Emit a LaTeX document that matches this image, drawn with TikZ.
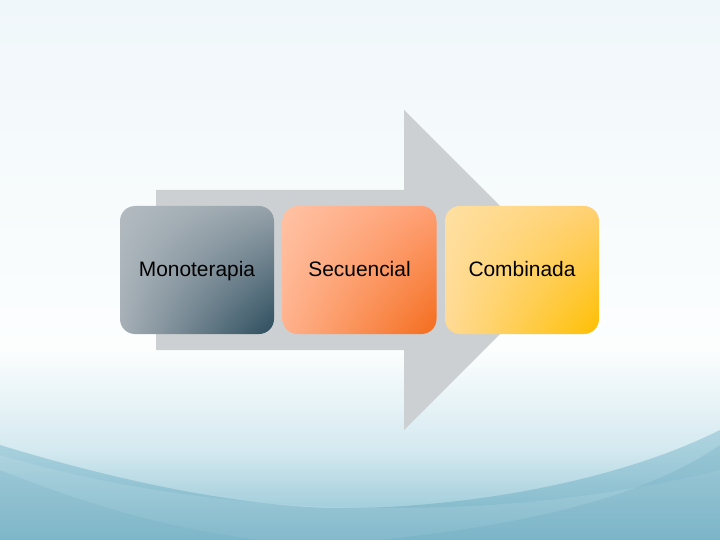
\documentclass[tikz,border=0pt]{standalone}
\usepackage{fontspec}
\setmainfont{Liberation Sans}
\usetikzlibrary{shadings}
\begin{document}
\begin{tikzpicture}[x=1bp,y=-1bp,
  stagebox/.style={rounded corners=15bp, minimum width=154bp, minimum height=128bp,
    inner sep=0pt, text height=18bp, text depth=4bp,
    font=\fontsize{21}{25}\selectfont, text=black},
  arrowshape/.style={draw=none, fill=arrowgray}]
\definecolor{arrowgray}{HTML}{CDD0D2}
\definecolor{bgtop}{HTML}{F0F7FA}
\definecolor{bgmid}{HTML}{FCFEFE}
\definecolor{teal1}{HTML}{68A9BF}
\definecolor{teal2}{HTML}{88BFD0}
\definecolor{teal3}{HTML}{D4E9F0}
\definecolor{mUL}{HTML}{B3BBC1}\definecolor{mUR}{HTML}{96A2AA}
\definecolor{mLL}{HTML}{A6AFB6}\definecolor{mLR}{HTML}{2B4C5D}
\definecolor{sUL}{HTML}{FFC2A4}\definecolor{sUR}{HTML}{FF9E72}
\definecolor{sLL}{HTML}{FFB18C}\definecolor{sLR}{HTML}{F46C1C}
\definecolor{cUL}{HTML}{FFE0A2}\definecolor{cUR}{HTML}{FFD072}
\definecolor{cLL}{HTML}{FFDA96}\definecolor{cLR}{HTML}{FFBF00}
\useasboundingbox (0,0) rectangle (720,540);
% background
\shade[top color=bgtop, bottom color=bgmid] (0,0) rectangle (720,350);
\shade[top color=bgmid, bottom color=teal3] (0,350) rectangle (720,450);
\shade[top color=teal3, bottom color=teal2] (0,450) rectangle (720,540);
% darker wave bands at the sides
\shade[top color=teal2, bottom color=teal1, fill opacity=0.55]
  (0,445) .. controls (180,500) and (300,510) .. (360,508)
  .. controls (480,505) and (620,480) .. (720,430) -- (720,540) -- (0,540) -- cycle;
\fill[white, opacity=0.1]
  (0,455) .. controls (200,515) and (480,530) .. (720,470) -- (720,540) -- (0,540) -- cycle;
\fill[teal1, opacity=0.25]
  (720,445) .. controls (640,500) and (520,525) .. (380,540) -- (720,540) -- cycle;
\fill[teal1, opacity=0.2]
  (0,470) .. controls (100,510) and (180,530) .. (260,540) -- (0,540) -- cycle;
% big arrow
\path[arrowshape] (156,190) -- (404,190) -- (404,110) -- (564,270) -- (404,430) -- (404,350) -- (156,350) -- cycle;
% boxes
\node[stagebox, upper left=mUL, upper right=mUR, lower left=mLL, lower right=mLR]
  (mono) at (197,270) {Monoterapia};
\node[stagebox, upper left=sUL, upper right=sUR, lower left=sLL, lower right=sLR]
  (sec) at (359.5,270) {Secuencial};
\node[stagebox, upper left=cUL, upper right=cUR, lower left=cLL, lower right=cLR]
  (comb) at (522,270) {Combinada};
\end{tikzpicture}
\end{document}
